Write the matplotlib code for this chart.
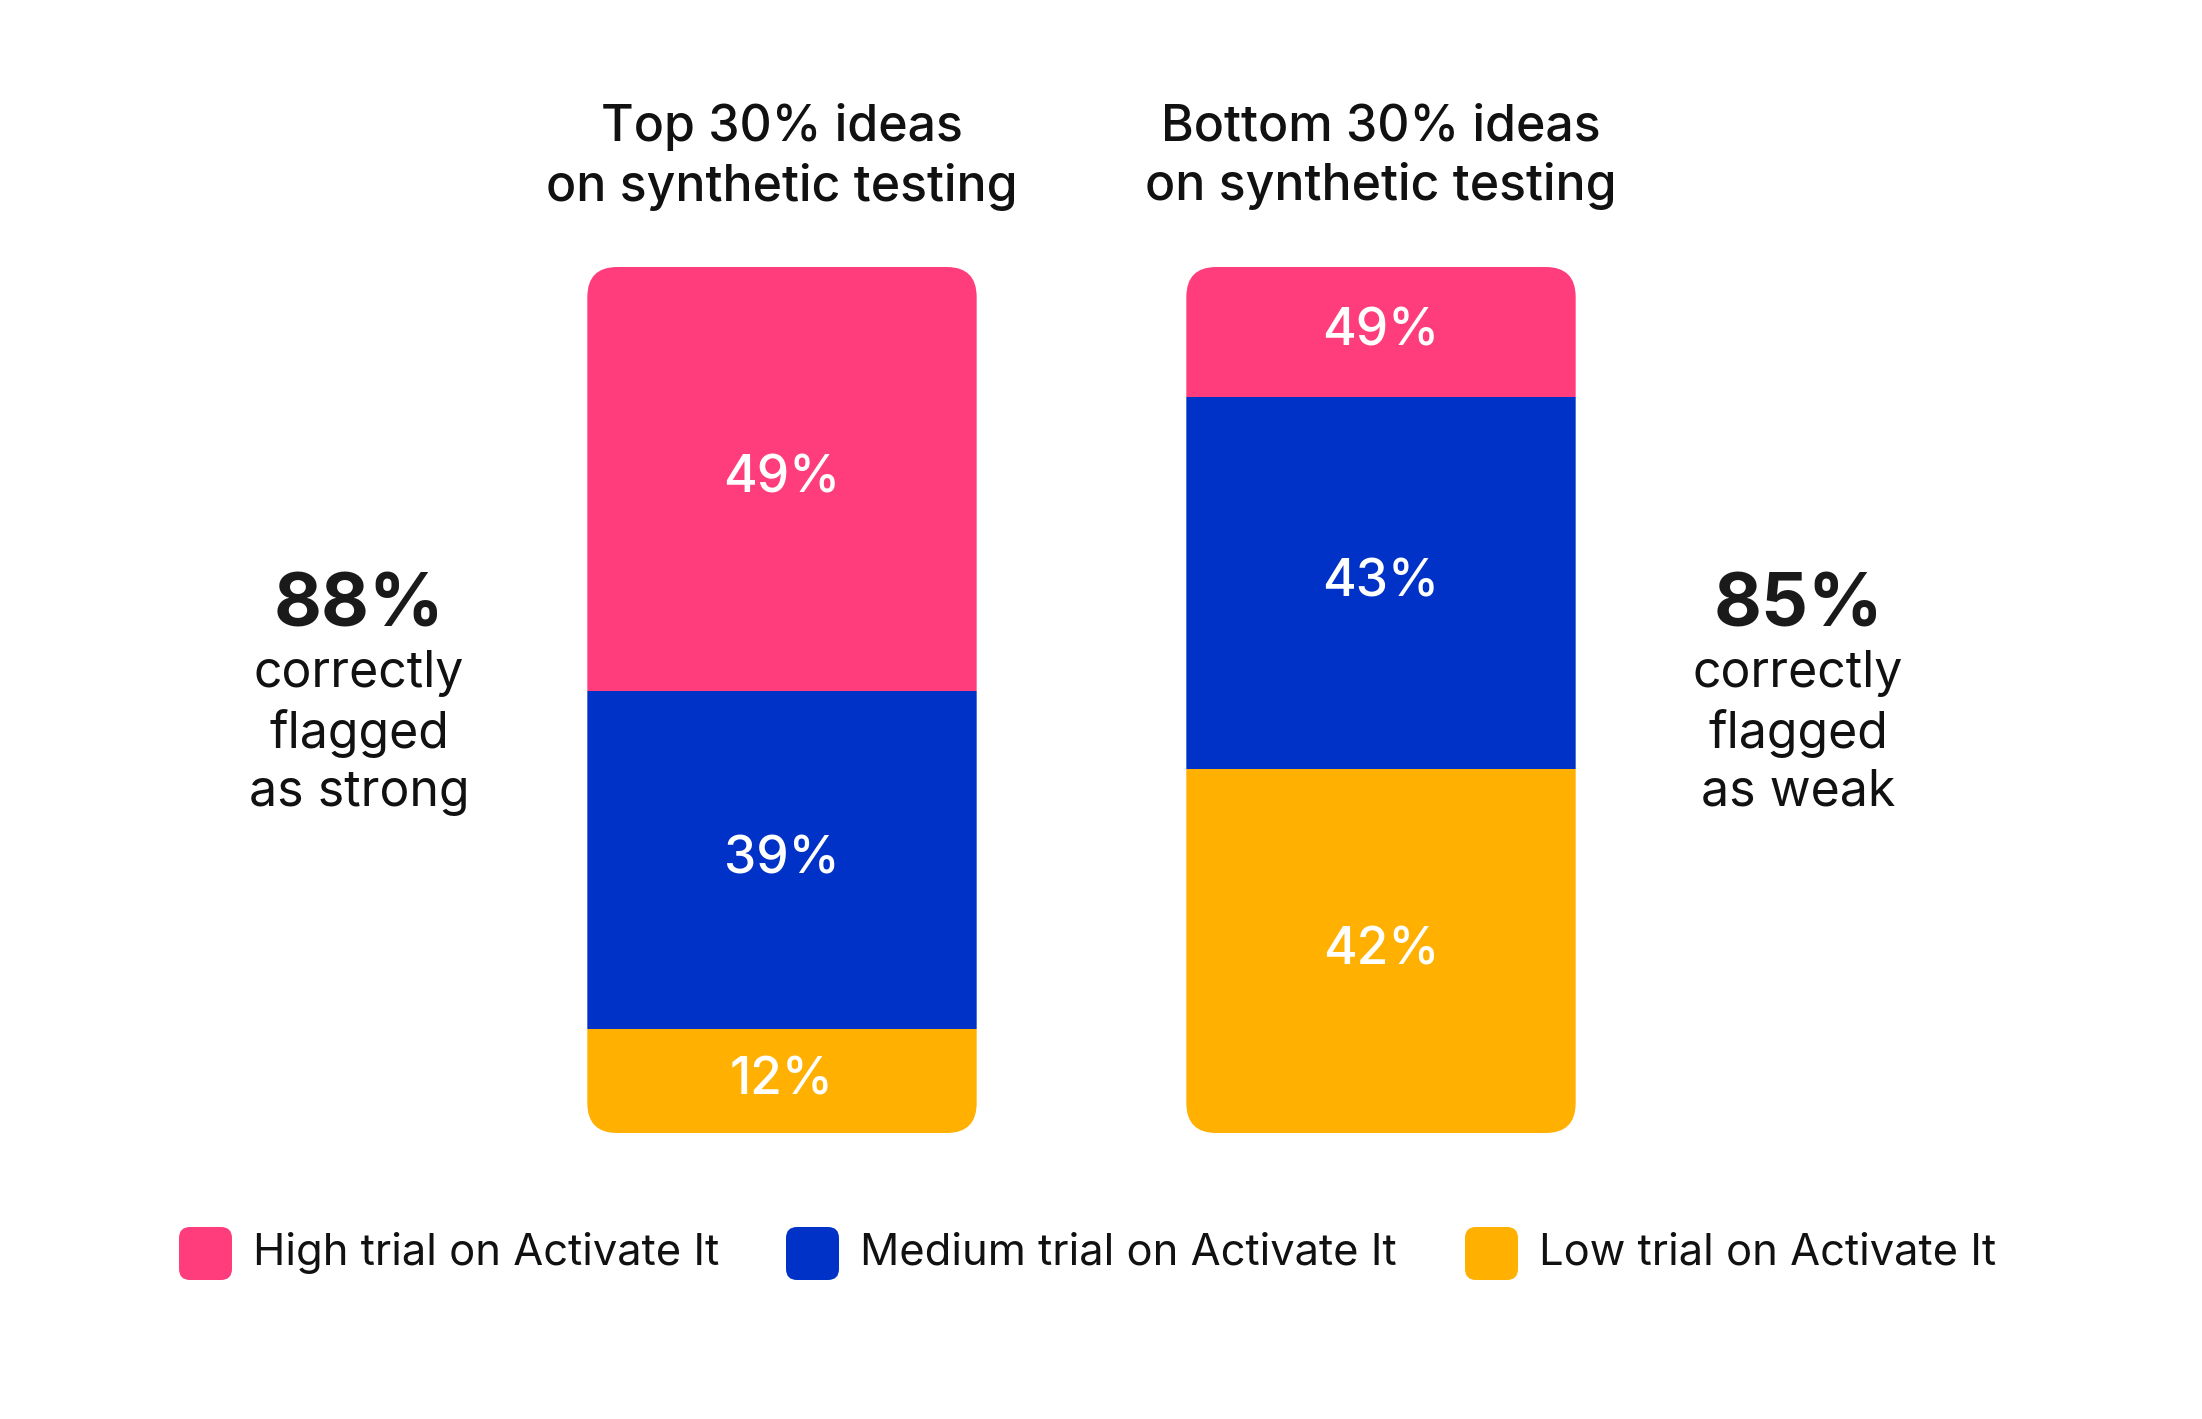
import matplotlib.pyplot as plt
from matplotlib.patches import FancyBboxPatch

# data
groups = ["Top 30% ideas\non synthetic testing", "Bottom 30% ideas\non synthetic testing"]
series = ["High trial on Activate It", "Medium trial on Activate It", "Low trial on Activate It"]
high = [49, 15]
medium = [39, 43]
low = [12, 42]
# printed labels (the original prints 49% on the short top segment of the second bar)
high_labels = ["49%", "49%"]
medium_labels = ["39%", "43%"]
low_labels = ["12%", "42%"]
side_big = ["88%", "85%"]
side_text = ["correctly\nflagged\nas strong", "correctly\nflagged\nas weak"]

colors = ["#FF3D7C", "#0032C8", "#FFB000"]

plt.rcParams['font.family'] = ['Inter', 'DejaVu Sans']

W, H = 2202, 1419
fig = plt.figure(figsize=(W / 100, H / 100), dpi=100)
fig.patch.set_facecolor("white")

# axes: y 0..100 spans the bar from px 267 to 1133, x=0 at px 782, 1 unit = 599 px
top_px, bot_px = 267, 1133
ax = fig.add_axes([0, 1 - bot_px / H, 1, (bot_px - top_px) / H])
x0_px, unit_px = 782, 599
ax.set_xlim(-x0_px / unit_px, (W - x0_px) / unit_px)
ax.set_ylim(0, 100)
ax.axis("off")

xs = [0, 1]
width = 0.65
bottoms_low = [0, 0]
bottoms_med = low
bottoms_high = [l + m for l, m in zip(low, medium)]

stack = [
    (low, bottoms_low, low_labels, colors[2]),
    (medium, bottoms_med, medium_labels, colors[1]),
    (high, bottoms_high, high_labels, colors[0]),
]

# rounded clip outline for each bar
px_per_y = (bot_px - top_px) / 100.0
radius_px = 30
aspect = (1 / px_per_y) / (1 / unit_px)
clips = []
for i, x in enumerate(xs):
    total = low[i] + medium[i] + high[i]
    clip = FancyBboxPatch((x - width / 2, 0), width, total,
                          boxstyle="round,pad=0,rounding_size=%f" % (radius_px / unit_px),
                          mutation_aspect=aspect, transform=ax.transData,
                          facecolor="none", edgecolor="none")
    ax.add_patch(clip)
    clips.append(clip)

for vals, bots, labels, c in stack:
    bars = ax.bar(xs, vals, width, bottom=bots, color=c, linewidth=0)
    for i, b in enumerate(bars):
        b.set_clip_path(clips[i])
        ax.text(xs[i], bots[i] + vals[i] / 2, labels[i], ha="center", va="center",
                color="white", fontsize=37, fontweight="medium")

# group titles
for x, g in zip(xs, groups):
    ax.text(x, (bot_px - 157) / px_per_y, g, ha="center", va="center",
            fontsize=36, fontweight="medium", color="#111111", linespacing=1.31, clip_on=False)

# side annotations
side_x = [(359 - x0_px) / unit_px, (1798 - x0_px) / unit_px]
for sx, big, txt in zip(side_x, side_big, side_text):
    ax.text(sx, (bot_px - 607) / px_per_y, big, ha="center", va="center",
            fontsize=53, fontweight="bold", color="#1a1a1a", clip_on=False)
    ax.text(sx, (bot_px - 733) / px_per_y, txt, ha="center", va="center",
            fontsize=36, color="#111111", linespacing=1.30, clip_on=False)

# legend with rounded swatches
leg_x = [179, 786, 1465]
for lx, name, c in zip(leg_x, series, colors):
    sw = FancyBboxPatch((lx / W, 1 - 1280 / H), 53 / W, 53 / H,
                        boxstyle="round,pad=0,rounding_size=%f" % (11 / W),
                        mutation_aspect=W / H, transform=fig.transFigure,
                        facecolor=c, edgecolor="none")
    fig.patches.append(sw)
    fig.text((lx + 74) / W, 1 - 1253 / H, name, ha="left", va="center",
             fontsize=31.3, color="#111111")

fig.savefig("out.png", dpi=100, facecolor="white")
